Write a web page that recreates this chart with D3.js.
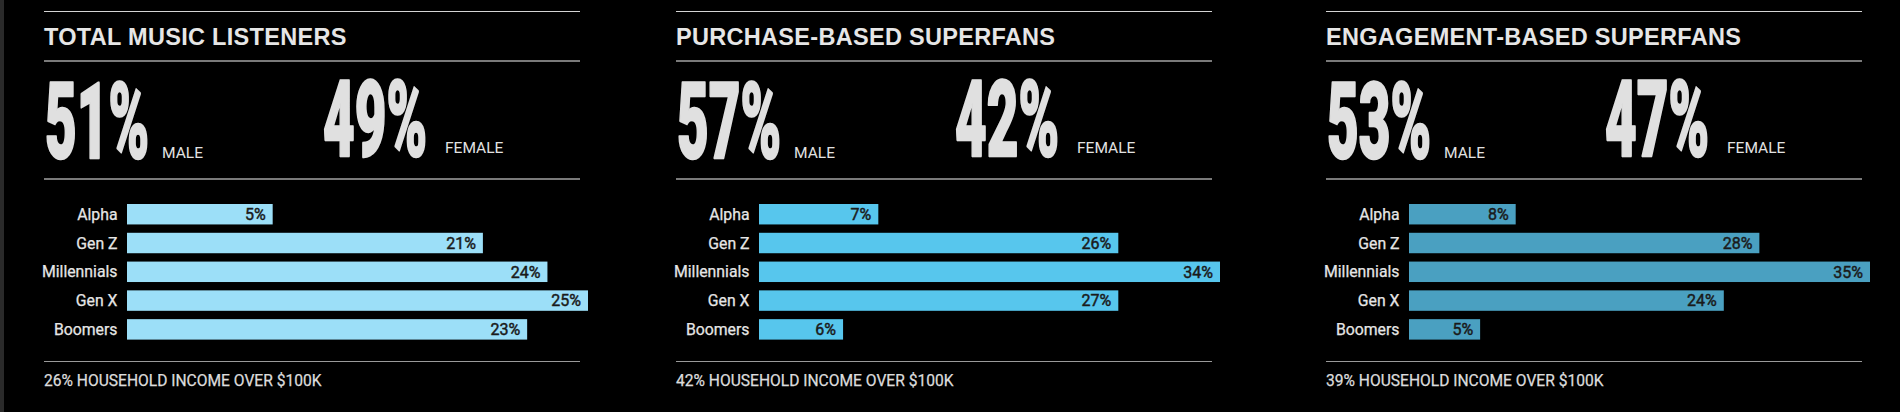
<!DOCTYPE html>
<html>
<head>
<meta charset="utf-8">
<script src="https://cdn.jsdelivr.net/npm/d3@7/dist/d3.min.js"></script>
<style>
  html, body { margin: 0; padding: 0; background: #000; }
  svg { display: block; }
</style>
</head>
<body>
<svg id="chart" width="1900" height="412"></svg>
<script>
// ---------- DATA ----------
const categories = ["Alpha", "Gen Z", "Millennials", "Gen X", "Boomers"];
const panelTitles = ["TOTAL MUSIC LISTENERS", "PURCHASE-BASED SUPERFANS", "ENGAGEMENT-BASED SUPERFANS"];
const maleShare = [51, 57, 53];
const femaleShare = [49, 42, 47];
const incomeShare = [26, 42, 39];
// printed percentages
const listenersLabels = [5, 21, 24, 25, 23];
const purchaseLabels = [7, 26, 34, 27, 6];
const engagementLabels = [8, 28, 35, 24, 5];
// bar lengths as drawn (in % units)
const listenersBars = [7.9, 19.3, 22.8, 25, 21.7];
const purchaseBars = [8.8, 26.5, 34, 26.5, 6.2];
const engagementBars = [8.1, 26.6, 35, 23.9, 5.4];

// ---------- STYLE / LAYOUT ----------
const panelLefts = [44, 676, 1326];
const panelWidth = 536;
const barColors = ["#9cdff8", "#57c6ed", "#4aa0c1"];
const textColor = "#e2e2e2";
const sans = "Roboto, 'Liberation Sans', sans-serif";

const panels = [
  { title: panelTitles[0], male: maleShare[0], female: femaleShare[0], income: incomeShare[0], bars: listenersBars, labels: listenersLabels, color: barColors[0] },
  { title: panelTitles[1], male: maleShare[1], female: femaleShare[1], income: incomeShare[1], bars: purchaseBars, labels: purchaseLabels, color: barColors[1] },
  { title: panelTitles[2], male: maleShare[2], female: femaleShare[2], income: incomeShare[2], bars: engagementBars, labels: engagementLabels, color: barColors[2] }
];

function draw() {
  const svg = d3.select("#chart");
  svg.append("rect").attr("x", 0).attr("y", 0).attr("width", 1900).attr("height", 412).attr("fill", "#000");
  svg.append("rect").attr("x", 0).attr("y", 0).attr("width", 4).attr("height", 412).attr("fill", "#2a2a2a");

  const y = d3.scaleBand().domain(categories).range([204, 339.6]).paddingInner(0.29).paddingOuter(0);

  // horizontal compression for the big condensed numerals
  const probe = svg.append("text")
    .attr("font-family", "Roboto, 'Liberation Sans', sans-serif").attr("font-weight", 900)
    .attr("font-size", 106).text("00%");
  const bigScale = 104 / probe.node().getComputedTextLength();
  probe.remove();

  panels.forEach((p, i) => {
    const g = svg.append("g").attr("transform", `translate(${panelLefts[i]},0)`);

    // rules
    g.append("line").attr("x1", 0).attr("x2", panelWidth).attr("y1", 11.5).attr("y2", 11.5)
      .attr("stroke", "#d4d4d4").attr("stroke-width", 1);
    g.append("line").attr("x1", 0).attr("x2", panelWidth).attr("y1", 61).attr("y2", 61)
      .attr("stroke", "#7a7a7a").attr("stroke-width", 2);
    g.append("line").attr("x1", 0).attr("x2", panelWidth).attr("y1", 179).attr("y2", 179)
      .attr("stroke", "#7a7a7a").attr("stroke-width", 2);
    g.append("line").attr("x1", 0).attr("x2", panelWidth).attr("y1", 361.5).attr("y2", 361.5)
      .attr("stroke", "#9a9a9a").attr("stroke-width", 1.2);

    // title
    g.append("text").attr("x", 0).attr("y", 45)
      .attr("font-family", "'Liberation Sans', Arial, sans-serif").attr("font-weight", 700)
      .attr("font-size", 23.5).attr("letter-spacing", 0.3).attr("fill", "#e6e6e6")
      .text(p.title);

    // big numbers
    const bigNums = [
      { v: p.male, x: 0, base: 158.5, label: "MALE", labBase: 158.3, gap: 14 },
      { v: p.female, x: 278, base: 156.5, label: "FEMALE", labBase: 152.7, gap: 19 }
    ];
    bigNums.forEach(b => {
      const t = g.append("text").attr("x", 0).attr("y", 0)
        .attr("font-family", "Roboto, 'Liberation Sans', sans-serif").attr("font-weight", 900)
        .attr("font-size", 106).attr("fill", "#e0e0e0")
        .attr("stroke", "#e0e0e0").attr("stroke-width", 2.5).attr("stroke-linejoin", "round")
        .text(b.v + "%");
      const w = t.node().getComputedTextLength() * bigScale;
      t.attr("transform", `translate(${b.x + 1},${b.base - 1}) scale(${bigScale},1)`);
      g.append("text").attr("x", b.x + w + b.gap).attr("y", b.labBase)
        .attr("font-family", sans).attr("font-size", 15.5).attr("fill", textColor)
        .text(b.label);
    });

    // bars
    const x = d3.scaleLinear().domain([0, d3.max(p.bars)]).range([0, 461]);
    const barX = 83;
    const rows = categories.map((c, k) => ({ cat: c, bar: p.bars[k], label: p.labels[k] }));

    g.selectAll("rect.bar").data(rows).enter().append("rect")
      .attr("class", "bar")
      .attr("x", barX)
      .attr("y", d => y(d.cat))
      .attr("width", d => x(d.bar))
      .attr("height", y.bandwidth())
      .attr("fill", p.color);

    g.selectAll("text.cat").data(rows).enter().append("text")
      .attr("class", "cat")
      .attr("x", 73.5)
      .attr("y", d => y(d.cat) + y.bandwidth() / 2)
      .attr("dy", "0.36em")
      .attr("text-anchor", "end")
      .attr("font-family", sans).attr("font-size", 15.8).attr("fill", "#e6e6e6")
      .attr("stroke", "#e6e6e6").attr("stroke-width", 0.25)
      .text(d => d.cat);

    g.selectAll("text.val").data(rows).enter().append("text")
      .attr("class", "val")
      .attr("x", d => barX + x(d.bar) - 7)
      .attr("y", d => y(d.cat) + y.bandwidth() / 2)
      .attr("dy", "0.36em")
      .attr("text-anchor", "end")
      .attr("font-family", sans).attr("font-size", 16).attr("fill", "#1a1a1a")
      .attr("stroke", "#1a1a1a").attr("stroke-width", 0.45)
      .text(d => d.label + "%");

    // footer
    g.append("text").attr("x", 0).attr("y", 386)
      .attr("font-family", sans).attr("font-size", 15.6).attr("fill", "#dcdcdc")
      .attr("stroke", "#dcdcdc").attr("stroke-width", 0.25)
      .text(p.income + "% HOUSEHOLD INCOME OVER $100K");
  });
}

if (document.fonts && document.fonts.ready) {
  document.fonts.ready.then(draw);
} else {
  draw();
}
</script>
</body>
</html>
